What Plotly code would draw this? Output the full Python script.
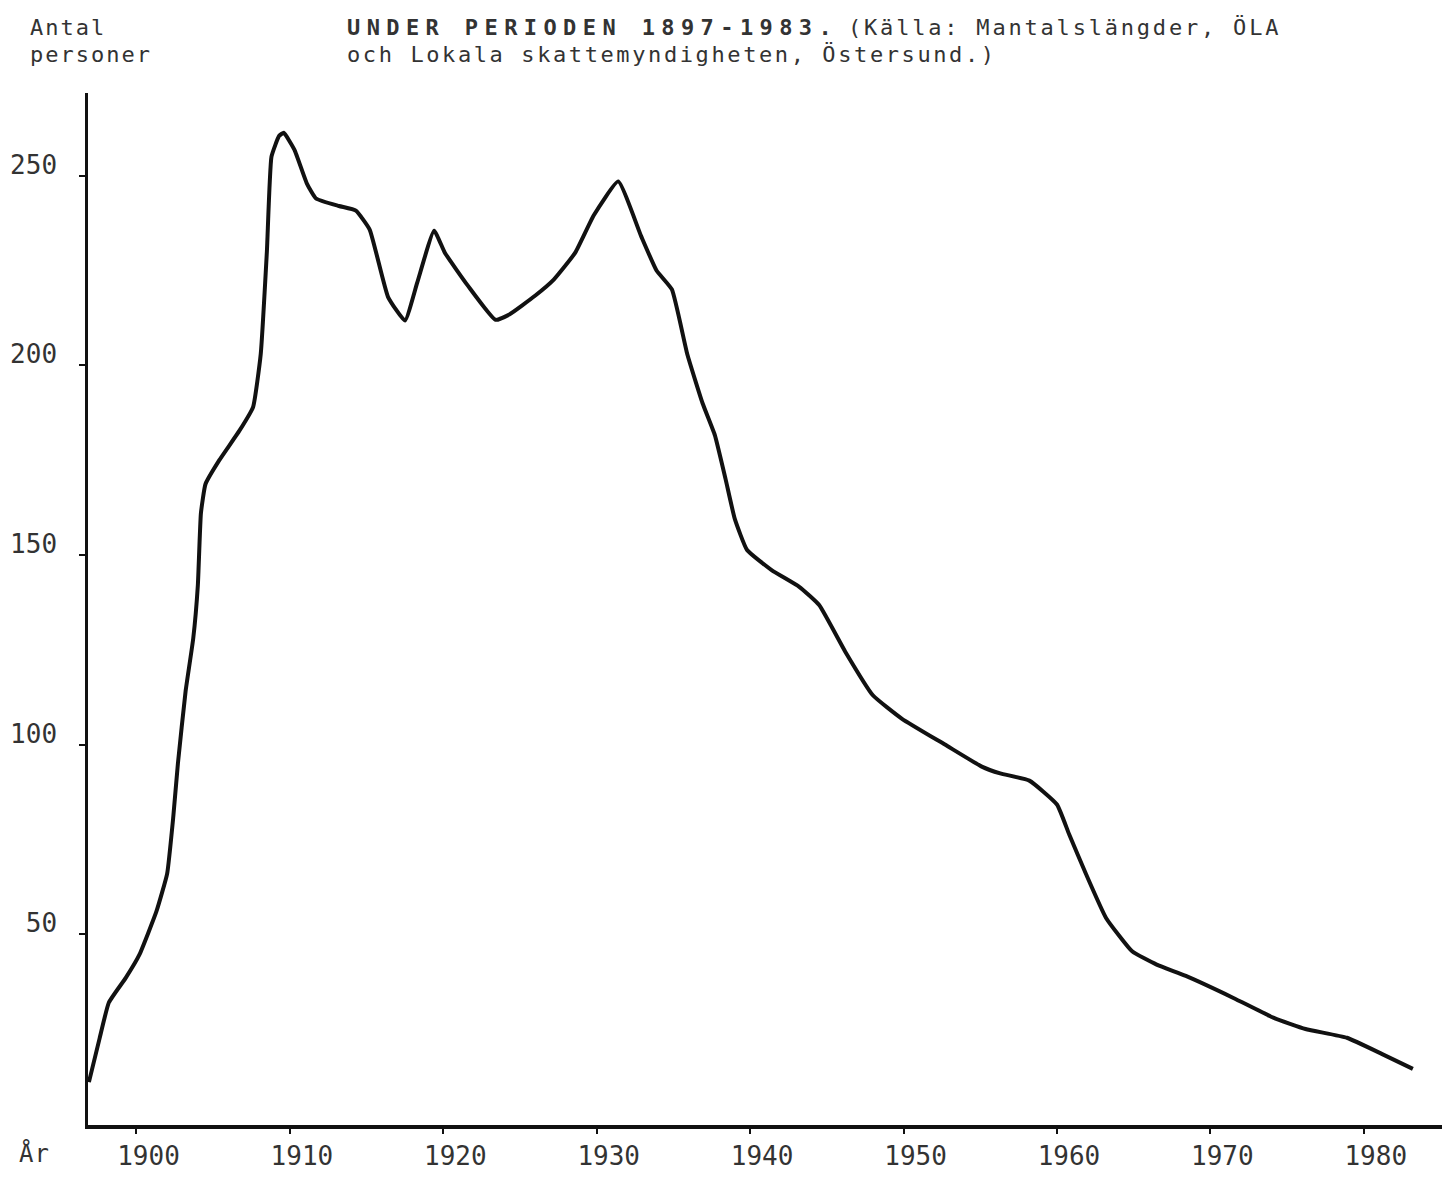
import plotly.graph_objects as go

# ---- data ----
years = [1896.9, 1897.6, 1898.2, 1899.3, 1900.2, 1901.3, 1902.0, 1902.4, 1902.7, 1903.2,
         1903.7, 1904.0, 1904.2, 1904.5, 1905.4, 1906.7, 1907.6, 1908.1, 1908.5, 1908.8,
         1909.3, 1909.6, 1910.3, 1911.1, 1911.7, 1913.2, 1914.3, 1915.2, 1916.4, 1917.5,
         1918.3, 1919.4, 1920.1, 1921.6, 1923.4, 1924.3, 1926.0, 1927.2, 1928.6, 1929.8,
         1931.4, 1932.9, 1933.9, 1934.9, 1935.9, 1936.9, 1937.7, 1938.4, 1939.0, 1939.8,
         1941.4, 1943.2, 1944.5, 1946.2, 1948.0, 1949.9, 1952.7, 1955.1, 1956.3, 1958.2,
         1960.0, 1960.8, 1961.9, 1963.2, 1964.9, 1966.5, 1968.4, 1971.5, 1974.1, 1976.2,
         1978.9, 1981.2, 1983.2]
persons = [11, 22.6, 32, 38.5, 44.7, 56, 66, 81, 95, 114,
           128, 142, 161, 168.7, 175, 182.7, 189, 203, 230, 255,
           260.5, 261.3, 256.8, 248, 244, 242, 240.8, 235.8, 218, 211.8,
           221.8, 235.5, 229.7, 221, 212, 213.4, 218.4, 222.6, 229.7, 239.5,
           248.5, 234, 225, 220, 203, 190, 181.6, 170, 159.5, 151.3,
           146, 141.6, 136.8, 124.5, 113, 106.8, 100, 94.2, 92.4, 90.5,
           84.2, 76.3, 65.8, 54.3, 45.5, 42, 39, 33.2, 28, 25,
           22.7, 18.4, 14.5]

x_ticks = [1900, 1910, 1920, 1930, 1940, 1950, 1960, 1970, 1980]
y_ticks = [50, 100, 150, 200, 250]

title_bold = "UNDER PERIODEN 1897-1983."
title_rest = "(Källa: Mantalslängder, ÖLA"
title_line2 = "och Lokala skattemyndigheten, Östersund.)"
y_label_lines = ["Antal", "personer"]
x_label = "År"

# ---- layout (page offset of 8px from the default body margin) ----
OFF = 8
W, H = 1450 - OFF, 1183 - OFF
L, R, T, B = 80, 0, 85, 58
PW, PH = W - L - R, H - T - B
FONT = "DejaVu Sans Mono"
TXT = "#333333"


def px(xp):  # page x -> paper
    return (xp - OFF - L) / PW


def py(yp):  # page y -> paper
    return (H - B - (yp - OFF)) / PH


fig = go.Figure()
fig.add_trace(go.Scatter(
    x=years, y=persons, mode="lines",
    line=dict(color="#111111", width=4, shape="spline", smoothing=0.4),
    hoverinfo="skip", showlegend=False,
))

fig.update_layout(
    width=W, height=H,
    margin=dict(l=L, r=R, t=T, b=B),
    paper_bgcolor="white", plot_bgcolor="white",
    font=dict(family=FONT, size=24, color=TXT),
    xaxis=dict(
        range=[1896.84, 1985.62], tickvals=x_ticks, ticktext=[str(v) for v in x_ticks],
        showgrid=False, zeroline=False, showline=True, linecolor="#111111", linewidth=3.5,
        ticks="outside", ticklen=5, tickwidth=2, tickcolor="#111111",
        tickfont=dict(family=FONT, size=26, color=TXT),
        ticklabelstandoff=0, ticklabelshift=12,
    ),
    yaxis=dict(
        range=[-0.3, 271.8], tickvals=y_ticks, ticktext=[str(v) for v in y_ticks],
        showgrid=False, zeroline=False, showline=True, linecolor="#111111", linewidth=2.5,
        ticks="outside", ticklen=6, tickwidth=2, tickcolor="#111111",
        tickfont=dict(family=FONT, size=26, color=TXT),
        ticklabelstandoff=17, ticklabelshift=-11,
    ),
)


def spaced(t, ls):
    return '<span style="letter-spacing:%spx">%s</span>' % (ls, t)


ann = [
    dict(text=spaced(y_label_lines[0], 2.0), x=px(28), y=py(27), size=22),
    dict(text=spaced(y_label_lines[1], 2.0), x=px(28), y=py(55), size=22),
    dict(text=spaced(x_label, 1), x=px(17), y=py(1153), size=24),
    dict(text="<b>" + spaced(title_bold, 6.4) + "</b>", x=px(345), y=py(27), size=22),
    dict(text=spaced(title_rest, 2.8), x=px(846), y=py(27), size=22),
    dict(text=spaced(title_line2, 2.6), x=px(345), y=py(55), size=22),
]
for a in ann:
    s = a.pop("size")
    a.update(xref="paper", yref="paper", showarrow=False, xanchor="left", yanchor="middle",
             font=dict(family=FONT, size=s, color=TXT))
fig.update_layout(annotations=ann)

fig.write_html("out.html")
